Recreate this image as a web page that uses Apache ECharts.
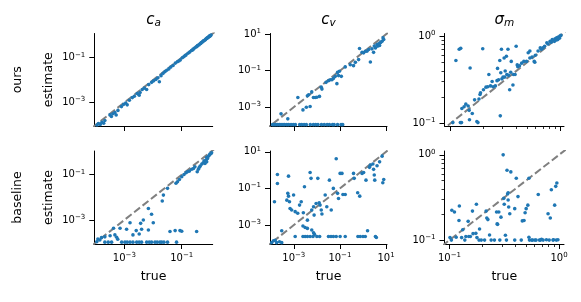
<!DOCTYPE html>
<html>
<head>
<meta charset="utf-8">
<script src="https://cdn.jsdelivr.net/npm/echarts@6/dist/echarts.min.js"></script>
<style>html,body{margin:0;padding:0;background:#fff;}#c{width:581px;height:302px;}</style>
</head>
<body>
<div id="c"></div>
<script>
// ---------- data (true value, estimate) ----------
const caOursTrue = [1.12e-4,1.26e-4,1.45e-4,1.66e-4,1.91e-4,2.1e-4,3.16e-4,3.55e-4,3.98e-4,4.7e-4,5.2e-4,6.0e-4,7.94e-4,1.12e-3,1.26e-3,1.5e-3,1.9e-3,2.24e-3,2.82e-3,3.55e-3,4.2e-3,5.0e-3,6.0e-3,7.08e-3,8.91e-3,1.05e-2,1.26e-2,1.48e-2,1.66e-2,1.9e-2,2.24e-2,2.63e-2,3.0e-2,3.55e-2,4.17e-2,5.0e-2,6.0e-2,7.08e-2,8.9e-2,0.105,0.12,0.141,0.166,0.19,0.219,0.251,0.282,0.316,0.355,0.398,0.437,0.479,0.525,0.575,0.631,0.692,0.741,0.794,0.851,0.912,0.955,1.0,1.05,0.24,0.339,0.457,0.55,0.661,0.776,0.891,0.977,0.0794,0.132,3.3e-3,9.5e-4];
const caOursEst = [1.0e-4,1.17e-4,1.05e-4,1.32e-4,1.2e-4,1.58e-4,2.82e-4,2.4e-4,3.16e-4,3.55e-4,2.8e-4,4.47e-4,6.6e-4,9.5e-4,7.9e-4,1.26e-3,1.66e-3,1.9e-3,2.51e-3,2.82e-3,3.8e-3,4.4e-3,3.8e-3,6.31e-3,7.94e-3,9.3e-3,1.07e-2,1.26e-2,8.5e-3,1.58e-2,2.0e-2,2.4e-2,2.75e-2,3.16e-2,3.8e-2,4.47e-2,5.75e-2,6.6e-2,7.9e-2,0.1,0.112,0.132,0.158,0.178,0.209,0.24,0.269,0.302,0.347,0.372,0.417,0.468,0.5,0.562,0.603,0.676,0.724,0.776,0.832,0.891,0.955,0.977,1.02,0.219,0.316,0.427,0.537,0.631,0.759,0.851,0.933,0.0708,0.126,2.1e-3,8.3e-4];

const cvOursTrue = [2.8e-4,5.5e-4,1.5e-3,2.5e-3,3.5e-3,3.9e-3,4.4e-3,5.1e-3,6.0e-3,7.1e-3,8.5e-3,1.0e-2,1.3e-2,1.55e-2,1.66e-2,2.5e-2,3.2e-2,3.8e-2,4.5e-2,5.2e-2,7.4e-2,8.7e-2,6.3e-2,7.9e-2,9.5e-2,0.115,0.17,0.282,0.389,0.468,0.646,0.708,0.912,1.07,1.26,1.48,1.78,2.09,2.45,2.88,3.09,4.07,4.79,5.62,6.76,7.41,7.94,3.47,4.37,5.25,6.03,
  1.2e-4,1.4e-4,1.66e-4,2.0e-4,2.4e-4,2.8e-4,3.4e-4,4.0e-4,5.0e-4,6.0e-4,7.6e-4,9.5e-4,1.17e-3,1.8e-3,2.2e-3,2.8e-3,3.5e-3,5.2e-3,7.1e-3,8.9e-3,1.12e-2,1.58e-2,2.1e-2,2.8e-2,3.5e-2,4.8e-2,5.6e-2,7.9e-2,0.112,0.132];
const cvOursEst = [4.3e-4,2.3e-4,3.4e-3,7.1e-4,1.0e-3,4.2e-3,4.8e-3,1.1e-3,6.9e-3,3.4e-3,3.4e-3,3.5e-3,3.9e-3,1.26e-2,9.8e-3,2.3e-2,2.8e-2,3.2e-2,3.2e-2,3.8e-2,1.95e-2,5.4e-2,4.9e-2,8.1e-2,9.3e-2,4.9e-2,0.162,0.214,0.19,0.288,0.407,1.66,1.02,0.955,1.17,1.17,1.45,0.302,1.58,1.02,2.24,2.75,2.95,3.39,4.17,6.31,5.13,1.78,2.24,2.4,3.72,
  1.1e-4,1.1e-4,1.1e-4,1.1e-4,1.1e-4,1.1e-4,1.1e-4,1.1e-4,1.1e-4,1.1e-4,1.1e-4,1.1e-4,1.1e-4,1.1e-4,1.1e-4,1.1e-4,1.1e-4,1.1e-4,1.1e-4,1.1e-4,1.1e-4,1.1e-4,1.1e-4,1.1e-4,1.1e-4,1.1e-4,1.1e-4,1.1e-4,1.1e-4,1.1e-4];

const smOursTrue = [0.105,0.112,0.12,0.124,0.123,0.126,0.127,0.133,0.138,0.145,0.148,0.149,0.151,0.158,0.166,0.174,0.178,0.182,0.186,0.188,0.197,0.2,0.211,0.219,0.224,0.232,0.24,0.245,0.257,0.266,0.269,0.275,0.282,0.285,0.288,0.292,0.295,0.302,0.309,0.313,0.316,0.324,0.327,0.335,0.339,0.347,0.355,0.359,0.372,0.376,0.389,0.398,0.407,0.412,0.427,0.447,0.468,0.495,0.513,0.531,0.531,0.556,0.582,0.589,0.596,0.631,0.661,0.676,0.7,0.724,0.759,0.776,0.813,0.832,0.851,0.891,0.902,0.923,0.933,0.955,0.966,0.989,1.0,1.02];
const smOursEst = [0.102,0.525,0.708,0.724,0.102,0.102,0.148,0.155,0.166,0.158,0.141,0.11,0.432,0.13,0.186,0.105,0.102,0.19,0.214,0.224,0.716,0.243,0.26,0.263,0.363,0.269,0.302,0.263,0.269,0.309,0.427,0.316,0.525,0.122,0.38,0.708,0.324,0.339,0.562,0.339,0.398,0.589,0.363,0.708,0.355,0.243,0.385,0.513,0.275,0.363,0.363,0.767,0.468,0.447,0.457,0.49,0.513,0.513,0.646,0.676,0.562,0.575,0.513,0.501,0.603,0.676,0.733,0.708,0.733,0.767,0.841,0.813,0.871,0.851,0.912,0.871,0.933,0.902,0.955,0.912,0.977,0.944,1.0,1.02];

const caBaseTrue = [2.1e-2,2.3e-2,3.2e-2,6.3e-2,7.1e-2,8.3e-2,0.1,0.12,0.141,0.158,0.186,0.224,0.257,0.347,0.38,0.437,0.501,0.562,0.603,0.646,0.708,0.741,0.794,0.851,0.912,0.966,1.05,1.1,0.741,0.407,0.288,
  6.9e-3,4.6e-3,8.9e-3,1.02e-2,1.58e-3,2.6e-3,3.7e-3,7.1e-4,1.2e-3,2.0e-3,3.3e-3,4.0e-3,6.9e-3,3.9e-2,5.9e-2,8.7e-2,0.1,0.331,4.2e-4,4.7e-4,3.2e-4,2.1e-4,1.4e-4,1.1e-4,1.2e-4,1.6e-4,5.4e-4,5.9e-4,
  2.1e-4,2.75e-4,3.6e-4,8.1e-4,1.05e-3,1.26e-3,1.58e-3,2.0e-3,2.7e-3,3.3e-3,4.0e-3,6.0e-3,7.4e-3,8.9e-3,1.17e-2,1.4e-2,1.74e-2,2.0e-2,2.4e-2,3.2e-2,6.6e-2];
const caBaseEst = [6.9e-3,1.26e-2,2.5e-2,4.2e-2,4.9e-2,6.2e-2,8.1e-2,0.102,0.123,0.135,0.145,0.174,0.19,0.135,0.174,0.24,0.295,0.339,0.417,0.316,0.447,0.575,0.525,0.661,0.741,0.813,0.871,0.933,0.372,0.209,0.224,
  3.2e-3,1.0e-3,1.8e-3,7.6e-4,7.6e-4,3.4e-4,7.1e-4,4.3e-4,3.9e-4,2.2e-4,2.4e-4,3.9e-4,3.6e-4,3.1e-4,3.4e-4,3.4e-4,3.2e-4,3.1e-4,4.3e-4,2.2e-4,2.0e-4,1.8e-4,1.3e-4,1.1e-4,1.45e-4,1.66e-4,1.74e-4,1.4e-4,
  1.05e-4,1.05e-4,1.05e-4,1.05e-4,1.05e-4,1.05e-4,1.05e-4,1.05e-4,1.05e-4,1.05e-4,1.05e-4,1.05e-4,1.05e-4,1.05e-4,1.05e-4,1.05e-4,1.05e-4,1.05e-4,1.05e-4,1.05e-4,1.05e-4];

const cvBaseTrue = [1.45e-4,1.95e-4,1.95e-4,5.9e-4,5.5e-4,5.9e-4,5.0e-4,6.5e-4,6.9e-4,8.1e-4,9.8e-4,1.15e-3,1.48e-3,1.78e-3,2.1e-3,2.6e-3,2.9e-3,3.9e-3,5.1e-3,5.6e-3,6.0e-3,7.2e-3,7.6e-3,9.3e-3,1.1e-2,1.26e-2,1.38e-2,1.55e-2,1.66e-2,2.3e-2,2.7e-2,3.5e-2,4.2e-2,5.2e-2,6.9e-2,7.9e-2,8.7e-2,0.102,0.123,0.135,0.17,0.389,0.417,0.589,0.724,0.912,1.07,1.35,1.91,2.09,2.69,2.88,3.09,3.24,5.25,6.76,7.24,7.94,4.07,
  3.0e-4,1.55e-4,2.5e-3,3.1e-3,3.9e-3,6.0e-3,7.2e-3,7.9e-3,1.58,
  1.15e-3,2.5e-3,3.1e-3,3.9e-3,5.1e-3,6.8e-3,1.0e-2,1.32e-2,3.2e-2,4.1e-2,5.2e-2,6.9e-2,0.102,0.17,0.603,0.759,1.0,1.26,3.47,3.8,
  1.1e-4,1.8e-4,2.4e-4,3.0e-4,1.32e-4];
const cvBaseEst = [1.86e-2,0.575,0.186,0.468,5.4e-2,3.8e-2,2.3e-2,1.86e-2,8.1e-3,6.6e-3,4.4e-2,5.4e-3,4.4e-3,1.23e-2,1.86e-2,4.7e-3,0.123,1.86e-3,0.741,0.355,6.6e-3,1.0e-2,3.5e-3,1.5e-2,0.355,1.66e-2,1.23e-2,6.6e-3,4.0e-3,4.4e-2,1.0e-2,0.282,6.6e-3,0.1,4.17,5.4e-2,2.8e-2,0.661,0.661,4.7e-2,4.7e-2,0.661,0.355,5.8e-2,3.8e-2,0.661,0.741,0.282,1.41,1.86,2.14,1.1,0.537,0.282,2.82,5.75,0.204,0.309,1.74,
  4.9e-4,1.5e-4,8.9e-4,7.4e-4,6.6e-4,5.4e-4,3.8e-4,3.1e-4,4.9e-4,
  2.4e-4,2.4e-4,2.4e-4,2.4e-4,2.4e-4,2.4e-4,2.4e-4,2.4e-4,2.4e-4,2.4e-4,2.4e-4,2.4e-4,2.4e-4,2.4e-4,2.4e-4,2.4e-4,2.4e-4,2.4e-4,2.4e-4,2.1e-4,
  1.1e-4,1.1e-4,1.23e-4,1.1e-4,1.4e-4];

const smBaseTrue = [0.101,0.104,0.105,0.111,0.115,0.122,0.123,0.129,0.132,0.138,0.141,0.148,0.15,0.155,0.162,0.164,0.174,0.176,0.178,0.186,0.188,0.195,0.209,0.216,0.219,0.224,0.232,0.24,0.257,0.269,0.272,0.275,0.282,0.288,0.295,0.309,0.313,0.316,0.324,0.331,0.335,0.339,0.343,0.343,0.347,0.355,0.363,0.394,0.394,0.407,0.422,0.452,0.462,0.479,0.49,0.501,0.519,0.531,0.531,0.537,0.562,0.575,0.603,0.617,0.646,0.661,0.676,0.692,0.716,0.767,0.794,0.813,0.832,0.851,0.881,0.891,0.912,0.933,0.944,0.955,0.977];
const smBaseEst = [0.107,0.1,0.224,0.214,0.108,0.17,0.251,0.107,0.132,0.1,0.11,0.166,0.11,0.11,0.219,0.119,0.12,0.263,0.107,0.1,0.135,0.1,0.1,0.219,0.182,0.174,0.115,0.1,0.1,0.214,0.155,0.153,0.214,0.1,0.186,1.0,0.309,0.263,0.114,0.1,0.661,0.347,0.359,0.295,0.245,0.204,0.631,0.234,0.1,0.531,0.324,0.1,0.168,0.17,0.209,0.234,0.257,0.531,0.108,0.1,0.1,0.1,0.1,0.1,0.343,0.1,0.1,0.102,0.1,0.101,0.204,0.1,0.182,0.389,0.1,0.101,0.257,0.427,0.1,0.468,0.101];

// identity reference line endpoints
const diagLine = [1e-5, 100];

// axis limits
const caRange = [9.0e-5, 1.2];
const caBaseYRange = [8.7e-5, 1.12];
const cvRange = [9.3e-5, 11.0];
const smOursXRange = [0.0881, 1.089];
const smOursYRange = [0.0933, 1.072];
const smBaseRange = [0.09, 1.11];

// tick values
const caTicks = [1e-3, 1e-1];
const cvTicks = [1e-3, 1e-1, 10];
const smTicks = [0.1, 1];
const smMinorTicks = [0.2, 0.3, 0.4, 0.5, 0.6, 0.7, 0.8, 0.9];

// text
const colTitles = [['c', 'a'], ['c', 'v'], ['σ', 'm']];
const rowLabels = ['ours', 'baseline'];
const xName = 'true';
const yName = 'estimate';

// ---------- layout ----------
const FONT = 'DejaVu Sans';
const colLeft = [94.3, 270, 444.5];
const colWidth = [118.4, 117, 119.5];
const rowTop = [33.5, 151];
const rowHeight = [92.5, 93];

const panels = [
  {r:0, c:0, x:caOursTrue, y:caOursEst, xr:caRange, yr:caRange, ticks:caTicks, minor:false},
  {r:0, c:1, x:cvOursTrue, y:cvOursEst, xr:cvRange, yr:cvRange, ticks:cvTicks, minor:false},
  {r:0, c:2, x:smOursTrue, y:smOursEst, xr:smOursXRange, yr:smOursYRange, ticks:smTicks, minor:true},
  {r:1, c:0, x:caBaseTrue, y:caBaseEst, xr:caRange, yr:caBaseYRange, ticks:caTicks, minor:false},
  {r:1, c:1, x:cvBaseTrue, y:cvBaseEst, xr:cvRange, yr:cvRange, ticks:cvTicks, minor:false},
  {r:1, c:2, x:smBaseTrue, y:smBaseEst, xr:smBaseRange, yr:smBaseRange, ticks:smTicks, minor:true}
];

const tickRich = {
  b: {fontSize: 10, fontFamily: FONT, color: '#000', lineHeight: 13},
  s: {fontSize: 7, fontFamily: FONT, color: '#000', lineHeight: 7, verticalAlign: 'top'}
};
function powLabel(v) {
  const e = Math.round(Math.log10(v));
  return '{b|10}{s|' + (e < 0 ? '\u2212' + (-e) : String(e)) + '}';
}

const grids = [], xAxes = [], yAxes = [], series = [];

panels.forEach((p, i) => {
  grids.push({left: colLeft[p.c], top: rowTop[p.r], width: colWidth[p.c], height: rowHeight[p.r], outerBoundsMode: 'none', containLabel: false});
  const base = {
    type: 'log', logBase: 10, gridIndex: i,
    axisLine: {show: true, onZero: false, lineStyle: {color: '#000', width: 1}},
    axisTick: {show: true, length: 5, lineStyle: {color: '#000', width: 1}, customValues: p.ticks},
    splitLine: {show: false}, minorTick: {show: false}
  };
  xAxes.push(Object.assign({}, base, {
    position: 'bottom', min: p.xr[0], max: p.xr[1],
    axisLabel: {show: p.r === 1, customValues: p.ticks, formatter: powLabel, rich: tickRich, margin: 8},
    name: p.r === 1 ? xName : '', nameLocation: 'middle', nameGap: 26,
    nameTextStyle: {fontFamily: FONT, fontSize: 12.5, color: '#000'}
  }));
  yAxes.push(Object.assign({}, base, {
    position: 'left', min: p.yr[0], max: p.yr[1],
    axisLabel: {show: true, customValues: p.ticks, formatter: powLabel, rich: tickRich, margin: 9},
    name: p.c === 0 ? yName : '', nameLocation: 'middle', nameGap: 39, nameRotate: 90,
    nameTextStyle: {fontFamily: FONT, fontSize: 12.5, color: '#000'}
  }));
  series.push({
    type: 'line', xAxisIndex: i, yAxisIndex: i,
    data: [[diagLine[0], diagLine[0]], [diagLine[1], diagLine[1]]],
    symbol: 'none', clip: true, silent: true, z: 2,
    lineStyle: {color: '#808080', width: 2, type: [7.5, 3.2]}
  });
  series.push({
    type: 'scatter', xAxisIndex: i, yAxisIndex: i,
    data: p.x.map((v, k) => [v, p.y[k]]),
    symbolSize: 3.6, silent: true, z: 3,
    itemStyle: {color: '#1f77b4', opacity: 1}
  });
});

// minor tick overlays for sigma_m panels
panels.forEach((p, i) => {
  if (!p.minor) return;
  const m = {
    type: 'log', logBase: 10, gridIndex: i,
    axisLine: {show: false},
    axisTick: {show: true, length: 3, lineStyle: {color: '#000', width: 0.8}, customValues: smMinorTicks},
    axisLabel: {show: false}, splitLine: {show: false}
  };
  xAxes.push(Object.assign({}, m, {position: 'bottom', min: p.xr[0], max: p.xr[1]}));
  yAxes.push(Object.assign({}, m, {position: 'left', min: p.yr[0], max: p.yr[1]}));
});

const titleRich = {
  i: {fontFamily: FONT, fontStyle: 'italic', fontSize: 15, color: '#000', lineHeight: 18},
  u: {fontFamily: FONT, fontStyle: 'italic', fontSize: 10.5, color: '#000', lineHeight: 10, verticalAlign: 'bottom'}
};
const graphics = [];
colTitles.forEach((t, c) => {
  graphics.push({type: 'text', x: colLeft[c] + colWidth[c] / 2, y: 20,
    style: {text: '{i|' + t[0] + '}{u|' + t[1] + '}', rich: titleRich, align: 'center', verticalAlign: 'middle'}});
});
rowLabels.forEach((t, r) => {
  graphics.push({type: 'text', x: 17.5, y: rowTop[r] + rowHeight[r] / 2, rotation: Math.PI / 2,
    style: {text: t, fontFamily: FONT, fontSize: 12.5, fill: '#000', align: 'center', verticalAlign: 'middle'}});
});

const chart = echarts.init(document.getElementById('c'), null, {renderer: 'canvas'});
chart.setOption({
  animation: false,
  backgroundColor: '#fff',
  grid: grids, xAxis: xAxes, yAxis: yAxes, series: series, graphic: graphics
});
</script>
</body>
</html>
